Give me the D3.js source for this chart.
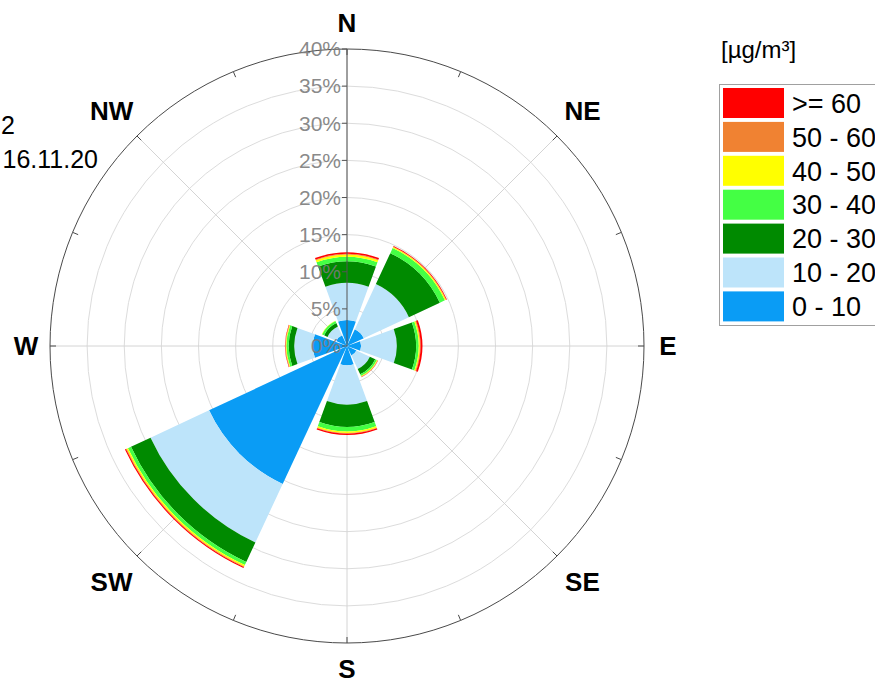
<!DOCTYPE html>
<html>
<head>
<meta charset="utf-8">
<script src="https://cdn.jsdelivr.net/npm/d3@7/dist/d3.min.js"></script>
<style>
  html, body { margin: 0; padding: 0; background: #fff; }
  svg { display: block; font-family: "Liberation Sans", Arial, sans-serif; }
</style>
</head>
<body>
<svg id="chart" width="875" height="684"></svg>
<script>
// Wind directions (bearing of each sector centre, degrees clockwise from north)
const directions = ["N", "NE", "E", "SE", "S", "SW", "W", "NW"];
const bearings = [0, 45, 90, 135, 180, 225, 270, 315];

// Concentration classes, innermost first
const classes = ["0 - 10", "10 - 20", "20 - 30", "30 - 40", "40 - 50", "50 - 60", ">= 60"];
const classColors = ["#0a9cf5", "#bde4fa", "#008a00", "#44ff44", "#ffff00", "#f08232", "#ff0000"];

// Frequency (% of hours) per direction for each concentration class
const c0to10  = [3.5, 2.5, 1.9, 1.4, 2.6, 20.5, 4.6, 1.6];
const c10to20 = [5.0, 6.7, 4.8, 2.0, 5.3, 8.7, 2.5, 1.3];
const c20to30 = [2.9, 4.6, 2.6, 0.8, 3.0, 2.9, 0.75, 0.5];
const c30to40 = [0.6, 0.75, 0.35, 0.25, 0.6, 0.45, 0.3, 0.3];
const c40to50 = [0.3, 0.15, 0.15, 0.1, 0.2, 0.2, 0.1, 0.05];
const c50to60 = [0.1, 0.05, 0.1, 0.05, 0.1, 0.1, 0.05, 0.0];
const c60plus = [0.2, 0.1, 0.25, 0.03, 0.15, 0.15, 0.05, 0.0];

// Radial axis ticks (%)
const radialTicks = [0, 5, 10, 15, 20, 25, 30, 35, 40];

const classSeries = [c0to10, c10to20, c20to30, c30to40, c40to50, c50to60, c60plus];

const svg = d3.select("#chart");
const cx = 347, cy = 346;
const maxR = 297;
const r = d3.scaleLinear().domain([0, 40]).range([0, maxR]);
const deg = Math.PI / 180;
const halfWidth = 20; // sector half-width in degrees

const g = svg.append("g").attr("transform", `translate(${cx},${cy})`);

// Grid circles
g.selectAll("circle.grid")
  .data(radialTicks.filter(t => t > 0 && t < 40))
  .join("circle")
  .attr("class", "grid")
  .attr("r", d => r(d))
  .attr("fill", "none")
  .attr("stroke", "#dcdcdc")
  .attr("stroke-width", 1);

// Radial spokes
g.selectAll("line.spoke")
  .data(bearings)
  .join("line")
  .attr("x1", 0).attr("y1", 0)
  .attr("x2", d => r(40) * Math.sin(d * deg))
  .attr("y2", d => -r(40) * Math.cos(d * deg))
  .attr("stroke", "#d4d4d4")
  .attr("stroke-width", 1);

// Outer ring
g.append("circle")
  .attr("r", r(40))
  .attr("fill", "none")
  .attr("stroke", "#4a4a4a")
  .attr("stroke-width", 1);

// Minor ticks on the outer ring every 22.5°
g.selectAll("line.ring-tick")
  .data(d3.range(0, 360, 22.5))
  .join("line")
  .attr("x1", d => r(40) * Math.sin(d * deg))
  .attr("y1", d => -r(40) * Math.cos(d * deg))
  .attr("x2", d => (r(40) - 6) * Math.sin(d * deg))
  .attr("y2", d => -(r(40) - 6) * Math.cos(d * deg))
  .attr("stroke", "#4a4a4a")
  .attr("stroke-width", 1);

// Stacked table: one row per direction
const table = directions.map((dir, i) => {
  const row = { dir, bearing: bearings[i] };
  classes.forEach((c, k) => { row[c] = classSeries[k][i]; });
  return row;
});

const stack = d3.stack().keys(classes);
const layers = stack(table);

const arc = d3.arc()
  .innerRadius(d => r(d[0]))
  .outerRadius(d => r(d[1]))
  .startAngle(d => (d.data.bearing - halfWidth) * deg)
  .endAngle(d => (d.data.bearing + halfWidth) * deg);

g.selectAll("g.layer")
  .data(layers)
  .join("g")
  .attr("class", "layer")
  .attr("fill", (d, i) => classColors[i])
  .selectAll("path")
  .data(d => d.filter(s => s[1] - s[0] > 0))
  .join("path")
  .attr("d", arc);

// Radial axis along north
g.append("line")
  .attr("x1", 0).attr("y1", 0)
  .attr("x2", 0).attr("y2", -r(40))
  .attr("stroke", "#555")
  .attr("stroke-width", 1);

const axisTicks = g.selectAll("g.rtick")
  .data(radialTicks)
  .join("g")
  .attr("class", "rtick")
  .attr("transform", d => `translate(0,${-r(d)})`);

axisTicks.append("line")
  .attr("x1", -5).attr("x2", 0)
  .attr("stroke", "#555");

axisTicks.append("text")
  .attr("x", -6)
  .attr("y", 0)
  .attr("dy", "0.35em")
  .attr("text-anchor", "end")
  .attr("font-size", 21)
  .attr("fill", "#7a7a7a")
  .attr("fill-opacity", 0.9)
  .text(d => d + "%");

// Compass labels
g.selectAll("text.compass")
  .data(directions)
  .join("text")
  .attr("class", "compass")
  .attr("x", (d, i) => (i % 2 === 0 ? 321 : 333) * Math.sin(bearings[i] * deg))
  .attr("y", (d, i) => -(i % 2 === 0 ? 323 : 333) * Math.cos(bearings[i] * deg))
  .attr("dy", "0.36em")
  .attr("text-anchor", "middle")
  .attr("font-size", 26)
  .attr("font-weight", "bold")
  .attr("fill", "#000")
  .text(d => d);

// Side annotations
svg.append("text")
  .attr("x", 15).attr("y", 134)
  .attr("text-anchor", "end")
  .attr("font-size", 25)
  .text("2");
svg.append("text")
  .attr("x", 98).attr("y", 168)
  .attr("text-anchor", "end")
  .attr("font-size", 25)
  .text("16.11.20");

// Legend
const legend = svg.append("g");
legend.append("text")
  .attr("x", 721).attr("y", 58)
  .attr("font-size", 24)
  .text("[µg/m³]");

legend.append("rect")
  .attr("x", 719.5).attr("y", 84.5)
  .attr("width", 200).attr("height", 241)
  .attr("fill", "#fff")
  .attr("stroke", "#a0a0a0");

const legendOrder = classes.map((c, i) => ({ label: c, color: classColors[i] })).reverse();
const rows = legend.selectAll("g.row")
  .data(legendOrder)
  .join("g")
  .attr("class", "row")
  .attr("transform", (d, i) => `translate(723,${88 + i * 33.9})`);

rows.append("rect")
  .attr("width", 61).attr("height", 30)
  .attr("fill", d => d.color);

rows.append("text")
  .attr("x", 69).attr("y", 15)
  .attr("dy", "0.36em")
  .attr("font-size", 27)
  .text(d => d.label);
</script>
</body>
</html>
